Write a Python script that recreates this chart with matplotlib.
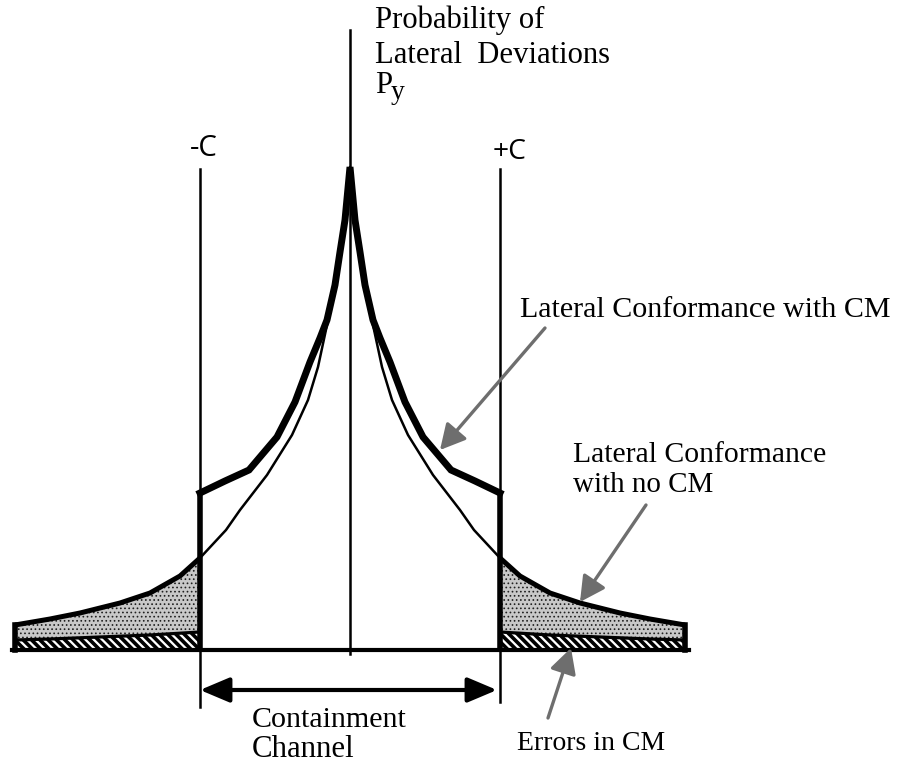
import numpy as np
import matplotlib
matplotlib.use("Agg")
import matplotlib.pyplot as plt
from matplotlib.patches import FancyArrowPatch

# ---------------- data (lateral offset from centre line, probability height) -------------
C = 150                       # half width of the containment channel
TAIL_END = 335                # extent of the deviation axis on each side

# probability of lateral deviations WITH conformance monitoring (inside channel)
cm_offset = [0, 5, 10, 15, 23, 30, 40, 55, 73, 101, 125, 150]
cm_prob = [483, 430, 398, 365, 330, 312, 288, 248, 213, 180, 169, 157]

# probability of lateral deviations with NO conformance monitoring
nocm_offset = [0, 5, 10, 15, 23, 32, 42, 58, 83, 110, 124, 150,
               170, 200, 230, 250, 270, 300, 335]
nocm_prob = [483, 425, 392, 360, 325, 283, 250, 215, 175, 140, 120, 92,
             74, 57, 47, 42, 37, 31, 25]

# errors in conformance monitoring (outside channel)
err_offset = [150, 200, 250, 300, 335]
err_prob = [18, 15, 13, 11, 10]

# ---------------- figure -------------
fig = plt.figure(figsize=(8.97, 7.63), dpi=100)
ax = fig.add_axes([0, 0, 1, 1])
ax.set_xlim(-350, 547)
ax.set_ylim(-113, 650)
ax.axis("off")


def mirror(off, val):
    off = np.asarray(off, float)
    val = np.asarray(val, float)
    x = np.r_[-off[::-1], off[1:]] if off[0] == 0 else np.r_[-off[::-1], off]
    y = np.r_[val[::-1], val[1:]] if off[0] == 0 else np.r_[val[::-1], val]
    return x, y


nocm_off = np.asarray(nocm_offset, float)
nocm_p = np.asarray(nocm_prob, float)
err_off = np.asarray(err_offset, float)
err_p = np.asarray(err_prob, float)
out = nocm_off >= C

# stippled regions (no CM tails beyond the channel)
for s in (-1, 1):
    xs = np.r_[s * nocm_off[out], s * err_off[::-1]]
    ys = np.r_[nocm_p[out], err_p[::-1]]
    with plt.rc_context({"hatch.linewidth": 0.7}):
        ax.fill(xs, ys, facecolor="#c8c8c8", edgecolor="#202020",
                hatch="....", lw=0, zorder=1)
    # hatched error band
    xb = np.r_[s * err_off, s * err_off[::-1]]
    yb = np.r_[err_p, np.zeros_like(err_p)]
    with plt.rc_context({"hatch.linewidth": 2.6}):
        ax.fill(xb, yb, facecolor="white", edgecolor="black",
                hatch="\\\\\\\\", lw=0, zorder=1)
    ax.plot(s * err_off, err_p, color="black", lw=2.3, zorder=3)
    # outer tail outline
    ax.plot(s * nocm_off[out], nocm_p[out], color="black", lw=3.6,
            solid_capstyle="butt", zorder=4)
    ax.plot([s * TAIL_END, s * TAIL_END], [0, nocm_p[-1]], color="black",
            lw=4, solid_capstyle="projecting", zorder=4)
    # thick outline down the channel edge
    ax.plot([s * C, s * C], [0, cm_prob[-1]], color="black", lw=4,
            solid_capstyle="butt", zorder=4)

# thin curve inside channel (no CM)
inn = nocm_off <= C
xt, yt = mirror(nocm_off[inn], nocm_p[inn])
ax.plot(xt, yt, color="black", lw=1.8, zorder=3)

# thick curve inside channel (with CM)
xc, yc = mirror(cm_offset, cm_prob)
ax.plot(xc, yc, color="black", lw=5, solid_joinstyle="miter", zorder=5)

# axis lines
ax.plot([0, 0], [-4, 620], color="black", lw=1.8, zorder=2)
ax.plot([-C, -C], [481, -57], color="black", lw=1.8, zorder=2)
ax.plot([C, C], [481, -52], color="black", lw=1.8, zorder=2)
ax.plot([-TAIL_END - 3, TAIL_END + 4], [0, 0], color="black", lw=3, zorder=4)

# containment channel double arrow
ax.add_patch(FancyArrowPatch((-C, -40), (C - 3, -40),
                             arrowstyle="<|-|>,head_length=0.9,head_width=0.38",
                             mutation_scale=20, lw=3, color="black",
                             shrinkA=0, shrinkB=0, zorder=5))

# grey stippled pointer arrows
for tail, tip in [((195, 322), (90, 200)),
                  ((296, 145), (230, 48)),
                  ((198, -68), (221, 2))]:
    ax.add_patch(FancyArrowPatch(tail, tip,
                                 arrowstyle="-|>,head_length=0.85,head_width=0.45",
                                 mutation_scale=18, lw=2.4, color="#6e6e6e",
                                 shrinkA=0, shrinkB=0, zorder=6))

# ---------------- text -------------
SERIF = ["Liberation Serif", "DejaVu Serif"]
SANS = ["Open Sans", "DejaVu Sans"]

texts = []


def put(x, y, s, width_px, family=SERIF, ha="left", va="baseline"):
    t = ax.text(x, y, s, family=family, fontsize=20, ha=ha, va=va,
                color="black", zorder=7)
    texts.append((t, width_px))
    return t


title1 = put(25, 622, "Probability of", 170)
put(25, 587, "Lateral  Deviations", 235)
put(-146, 502, "-C", 28, family=SANS, ha="center", va="center")
put(160, 498, "+C", 34, family=SANS, ha="center", va="center")
put(170, 333, "Lateral Conformance with CM", 370)
put(223, 188, "Lateral Conformance", 254)
put(223, 158, "with no CM", 140)
put(-98, -77, "Containment", 155)
put(-98, -107, "Channel", 103)
put(167, -100, "Errors in CM", 148)

fig.canvas.draw()
renderer = fig.canvas.get_renderer()
for t, w in texts:
    bb = t.get_window_extent(renderer)
    t.set_fontsize(t.get_fontsize() * w / bb.width)

# P with subscript y, same size as the title text
fs = title1.get_fontsize()
p_text = ax.text(25, 557, "P", family=SERIF, fontsize=fs, ha="left",
                 va="baseline", zorder=7)
fig.canvas.draw()
pb = p_text.get_window_extent(renderer)
x_after = ax.transData.inverted().transform((pb.x1, pb.y0))[0]
ax.text(x_after - 1, 551, "y", family=SERIF, fontsize=fs * 0.9, ha="left",
        va="baseline", zorder=7)

fig.savefig("out.png", dpi=100, facecolor="white")
